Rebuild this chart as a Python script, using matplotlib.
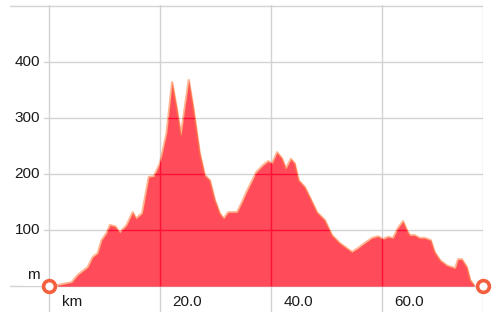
import matplotlib.pyplot as plt
import numpy as np

# elevation profile (km, m)
km = [1.6, 4.1, 5.2, 7.0, 7.9, 8.8, 9.5, 10.4, 11.0, 11.9, 12.8, 14.0, 15.1, 15.7,
      16.8, 18.0, 18.9, 20.0, 21.2, 22.2, 23.0, 23.8, 24.5, 25.2, 26.0, 27.2,
      28.1, 29.0, 29.9, 30.8, 31.5, 32.3, 33.2, 33.9, 34.7, 35.6, 36.2, 37.4,
      38.6, 39.5, 40.2, 41.1, 42.0, 42.7, 43.6, 44.3, 45.0, 46.1, 47.0, 48.3,
      49.7, 51.0, 52.4, 54.6, 55.7, 56.9, 58.2, 59.3, 60.2, 61.1, 62.0, 62.9,
      63.8, 64.5, 65.0, 65.9, 66.8, 67.7, 68.8, 69.5, 70.5, 71.7, 72.6, 73.2,
      73.7, 74.4, 75.3, 75.9, 76.6]
elev = [2, 7, 20, 34, 52, 59, 82, 95, 109, 107, 96, 109, 132, 121,
        130, 195, 196, 219, 273, 364, 320, 270, 320, 368, 320, 237,
        198, 189, 154, 130, 121, 132, 132, 132, 148, 168, 180, 204,
        216, 223, 219, 239, 228, 210, 227, 219, 189, 177, 159, 132,
        118, 91, 77, 61, 68, 77, 86, 89, 84, 88, 86, 104,
        116, 100, 91, 91, 86, 86, 82, 61, 46, 37, 34, 32,
        48, 48, 34, 11, 2]

x_grid = [0, 20, 40, 60]
x_labels = ["km", "20.0", "40.0", "60.0"]
y_grid = [0, 100, 200, 300, 400, 500]
y_labels = ["m", "100", "200", "300", "400"]
y_label_pos = [20, 100, 200, 300, 400]

x_min, x_max = -7.0, 78.2
y_min, y_max = -46, 502

fig = plt.figure(figsize=(5.0, 3.21), dpi=100)
ax = fig.add_axes([0.02, 0.028, 0.946, 0.957])
ax.set_xlim(x_min, x_max)
ax.set_ylim(y_min, y_max)
ax.axis("off")

grid_kw = dict(color="#d2d2d2", linewidth=1.0, zorder=1)
for y in y_grid:
    ax.plot([x_min, x_max], [y, y], **grid_kw)
for x in x_grid + [x_max]:
    ax.plot([x, x], [y_min, y_max], **grid_kw)

fill = ax.fill_between(km, 0, elev, color="#ff3c4c", alpha=0.92, lw=0, zorder=2)
# soft orange fringe along the profile edge
ax.plot(km, elev, color="#ff7a3c", linewidth=1.6, alpha=0.55, zorder=3)

# grid lines show through the fill as a deeper red
clip = fill.get_paths()[0]
for y in y_grid[1:]:
    ln, = ax.plot([x_min, x_max], [y, y], color="#ff1038", linewidth=1.0, zorder=4)
    ln.set_clip_path(clip, ax.transData)
for x in x_grid[1:]:
    ln, = ax.plot([x, x], [y_min, y_max], color="#ff1038", linewidth=1.0, zorder=4)
    ln.set_clip_path(clip, ax.transData)

font = dict(family="Liberation Sans", fontsize=11, color="#1a1a1a")
for y, lab in zip(y_label_pos, y_labels):
    ax.text(-1.6, y, lab, ha="right", va="center", zorder=5,
            bbox=dict(facecolor="white", edgecolor="none", pad=3.0), **font)
for x, lab in zip(x_grid, x_labels):
    ax.text(x + 2.3, -28, lab, ha="left", va="center", zorder=5, **font)

ax.plot([0, x_max], [0, 0], linestyle="none", marker="o", markersize=8.5,
        markerfacecolor="white", markeredgecolor="#f4603e",
        markeredgewidth=2.6, zorder=6, clip_on=False)

fig.savefig("out.png", dpi=100)
